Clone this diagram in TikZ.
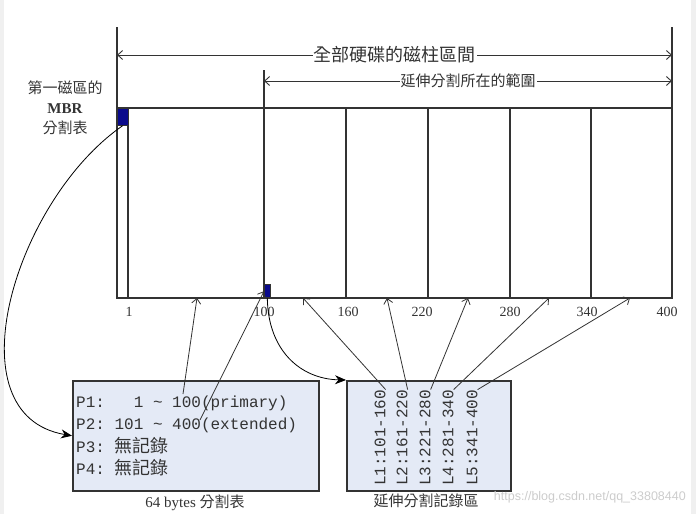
\documentclass[tikz,border=0pt]{standalone}
\usepackage{fontspec}
\setmainfont{Liberation Serif}
\setmonofont{Liberation Mono}
\setsansfont{Liberation Sans}
\newfontfamily\cjk{Noto Sans CJK TC}
\usetikzlibrary{arrows.meta,positioning}
\definecolor{diskNavy}{HTML}{0A0A8C}
\definecolor{tabFill}{HTML}{E4EAF6}
\definecolor{lineGray}{HTML}{333333}
\definecolor{markGray}{HTML}{CCCCCC}
\tikzset{
  diskline/.style={draw=lineGray, line width=1.3pt},
  span/.style={{Straight Barb[length=5pt,width=9pt]}-{Straight Barb[length=5pt,width=9pt]},
        line width=0.9pt, draw=lineGray},
  spanlab/.style={fill=white, inner sep=1pt, text=lineGray},
  ptr/.style={-{Straight Barb[length=5pt,width=9pt]}, line width=0.8pt, draw=lineGray},
  jump/.style={-{Stealth[length=11pt,width=9pt]}, line width=0.8pt, draw=black},
  cylab/.style={font=\fontsize{14}{14}\selectfont, text=lineGray, inner sep=0pt},
  cell/.style={draw=lineGray, fill=diskNavy, line width=0.6pt, inner sep=0pt},
  tabbox/.style={draw=lineGray, fill=tabFill, line width=1.5pt, inner sep=0pt},
  pentry/.style={font=\ttfamily\fontsize{16}{16}\selectfont, anchor=base west,
        inner sep=0pt, text=lineGray},
  lentry/.style={font=\ttfamily\fontsize{16}{16}\selectfont, anchor=west, rotate=90,
        inner sep=0pt, text=lineGray},
  caption/.style={font=\fontsize{15}{15}\selectfont, text=lineGray}
}
\newcommand{\zh}[1]{{\cjk\fontsize{18}{18}\selectfont #1}}
\begin{document}
\begin{tikzpicture}[x=1pt, y=-1pt]
\useasboundingbox (0,0) rectangle (696,514);
\fill[gray!12] (0,0) rectangle (4,514);
\fill[gray!12] (691,0) rectangle (696,514);

% disk cylinders
\draw[diskline] (117,27) -- (117,298) -- (672,298) -- (672,27);
\draw[diskline] (117,108) -- (672,108);
\draw[diskline] (264,70) -- (264,298);
\foreach \x in {128,346,428,510,591}
  \draw[diskline] (\x,108) -- (\x,298);

\node[cell, minimum width=11pt, minimum height=17pt, anchor=north west] (mbr) at (117,108) {};
\node[cell, minimum width=6pt, minimum height=13pt, anchor=south west] (ebr) at (264,298) {};

\foreach \x/\n/\lab in {129/c1/1, 264/c100/100, 348/c160/160, 422/c220/220,
                        510/c280/280, 587/c340/340, 667/c400/400}
  \node[cylab] (\n) at (\x,312) {\lab};

% ranges
\draw[span] (117,55) -- (672,55)
  node[spanlab, pos=0.5, font=\cjk\fontsize{18}{18}\selectfont] (whole) {全部硬碟的磁柱區間};
\draw[span] (264,81) -- (672,81)
  node[spanlab, pos=0.5, font=\cjk\fontsize{15}{15}\selectfont] (extrange) {延伸分割所在的範圍};

\node[align=center, font=\fontsize{15}{20}\selectfont, text=lineGray] (mbrlab) at (65,108)
  {{\cjk 第一磁區的}\\\textbf{MBR}\\{\cjk 分割表}};

% partition table
\node[tabbox, minimum width=246pt, minimum height=110pt, anchor=north west] (ptab) at (72,380) {};
\node[pentry] (p1) at (76,407) {P1:\ \ \ 1 \textasciitilde\ 100(primary)};
\node[pentry] (p2) at (76,429) {P2: 101 \textasciitilde\ 400(extended)};
\node[pentry] (p3) at (76,452) {P3: \zh{無記錄}};
\node[pentry] (p4) at (76,474) {P4: \zh{無記錄}};
\node[caption] (pcap) at (195,503) {64 bytes {\cjk 分割表}};

% extended records
\node[tabbox, minimum width=164pt, minimum height=110pt, anchor=north west] (ltab) at (346,380) {};
\foreach \i/\x/\r in {1/380/101-160, 2/402/161-220, 3/425/221-280, 4/448/281-340, 5/472/341-400}
  \node[lentry] (l\i) at (\x,486) {L\i:\r};
\node[caption] (lcap) at (426,501) {\cjk 延伸分割記錄區};

% pointers
\coordinate (p1tip) at (183,394);
\coordinate (p2tip) at (200,420);
\coordinate (t1) at (197,298);
\foreach \i/\x in {1/303, 2/387, 3/468, 4/549, 5/630}
  \coordinate (tl\i) at (\x,298);

\draw[jump] (mbr.south) .. controls (15,200) and (-50,415) .. (ptab.west);
\draw[ptr] (p1tip) -- (t1);
\draw[ptr] (p2tip) -- (ebr.west);
\draw[jump] (ebr.south) .. controls (268,350) and (300,379) .. (ltab.north west);
\foreach \i in {1,...,5}
  \draw[ptr] (l\i.south east) -- (tl\i);

% watermark
\node[font=\sffamily\fontsize{12.5}{12.5}\selectfont, text=markGray, anchor=east, inner sep=0pt] (wm) at (686,497)
  {https://blog.csdn.net/qq\_33808440};
\end{tikzpicture}
\end{document}
